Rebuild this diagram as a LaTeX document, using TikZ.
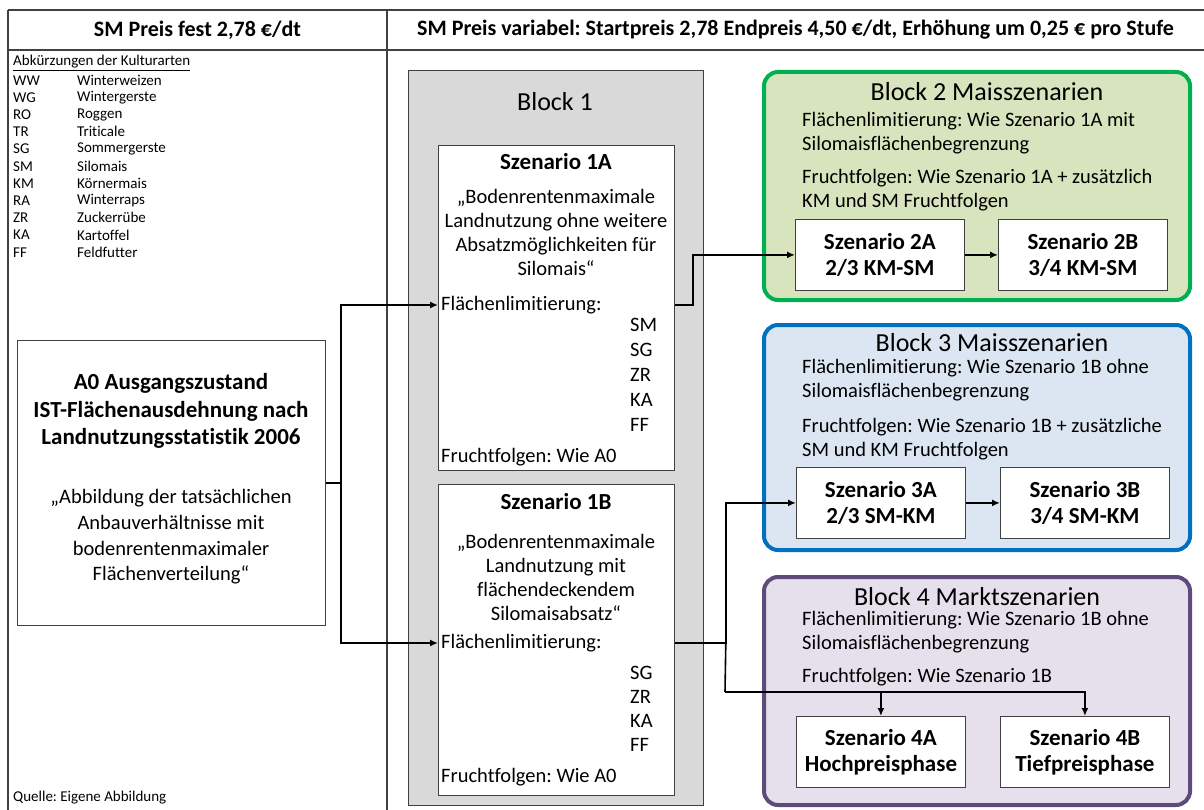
\documentclass[tikz,border=0pt]{standalone}
\usepackage{fontspec}
\setmainfont{Carlito}[Ligatures=NoCommon]
\usetikzlibrary{arrows.meta}
\frenchspacing

\definecolor{gruenRand}{HTML}{00B050}
\definecolor{gruenFill}{HTML}{D7E4BD}
\definecolor{blauRand}{HTML}{0070C0}
\definecolor{blauFill}{HTML}{DCE6F2}
\definecolor{lilaRand}{HTML}{604A7B}
\definecolor{lilaFill}{HTML}{E5E0EC}
\definecolor{grau}{HTML}{D9D9D9}
\definecolor{rahmen}{HTML}{404040}

\begin{document}
\begin{tikzpicture}[x=1pt, y=-1pt,
    txt/.style={inner sep=0pt, font=\fontsize{20.5}{24}\selectfont},
    fett/.style={inner sep=0pt, align=center, font=\bfseries\fontsize{23}{26}\selectfont},
    kopf/.style={inner sep=0pt, font=\bfseries\fontsize{22}{24}\selectfont},
    titel/.style={inner sep=0pt, font=\fontsize{26}{30}\selectfont},
    klein/.style={inner sep=0pt, anchor=west, font=\fontsize{15}{17}\selectfont},
    kasten/.style={draw=rahmen, line width=0.8pt, fill=white, anchor=north west,
      minimum width=169pt, minimum height=71pt, inner sep=0pt, align=center,
      font=\bfseries\fontsize{23}{26}\selectfont},
    block/.style={rounded corners=14pt, line width=4pt, anchor=north west,
      minimum width=426pt, minimum height=228pt},
    linie/.style={line width=1.6pt},
    pfeil/.style={line width=1.6pt, -{Latex[length=8pt,width=7pt]}},
  ]
  \useasboundingbox (0,0) rectangle (1204,810);
  % Tabelle
  \draw[line width=1.3pt, draw=rahmen] (8,10) -- (1204,10) (8,50) -- (1204,50)
    (8,10) -- (8,810) (387,10) -- (387,810);
  \node[kopf] (kopfL) at (197.5,30) {SM Preis fest 2,78 €/dt};
  \node[kopf] (kopfR) at (795.5,30) {SM Preis variabel: Startpreis 2,78 Endpreis 4,50 €/dt, Erhöhung um 0,25 € pro Stufe};

  % Legende
  \node[klein] (legende) at (13,63) {\underline{Abkürzungen der Kulturarten}};
  \foreach \k/\n [count=\i] in {WW/Winterweizen, WG/Wintergerste, RO/Roggen, TR/Triticale,
      SG/Sommergerste, SM/Silomais, KM/Körnermais, RA/Winterraps, ZR/Zuckerrübe,
      KA/Kartoffel, FF/Feldfutter}{
    \node[klein] (kurz\i) at (13,63+17.2*\i) {\k};
    \node[klein] (lang\i) at (77,63+17.2*\i) {\n};
  }
  \node[klein] (quelle) at (13,798) {Quelle: Eigene Abbildung};

  % A0
  \node[draw=rahmen, line width=0.8pt, anchor=north west, minimum width=308pt,
    minimum height=285pt, inner sep=0pt] (a0) at (17,340) {};
  \node[fett, font=\bfseries\fontsize{23}{27.5}\selectfont] (a0titel) at (171,411)
    {A0 Ausgangszustand\\IST-Flächenausdehnung nach\\Landnutzungsstatistik 2006};
  \node[txt, align=center, font=\fontsize{20.5}{25.7}\selectfont] (a0zitat) at (171,537)
    {„Abbildung der tatsächlichen\\Anbauverhältnisse mit\\bodenrentenmaximaler\\Flächenverteilung“};

  % Block 1
  \node[draw=rahmen, line width=0.8pt, fill=grau, anchor=north west, minimum width=295pt,
    minimum height=735pt] (b1) at (408,70) {};
  \node[titel] (b1titel) at (555,102) {Block 1};
  % Szenario 1A
  \node[kasten, minimum width=236pt, minimum height=325pt] (s1a) at (438,145) {};
  \node[fett] (s1atitel) at (556,162) {Szenario 1A};
  \node[txt, align=center] (s1azitat) at (556,232)
    {„Bodenrentenmaximale\\Landnutzung ohne weitere\\Absatzmöglichkeiten für\\Silomais“};
  \node[txt, anchor=west] (fl1a) at (441,305) {Flächenlimitierung:};
  \foreach \k [count=\i] in {SM,SG,ZR,KA,FF}
    \node[txt, anchor=west] (lim1a\i) at (630,300+25*\i) {\k};
  \node[txt, anchor=west] (ff1a) at (441,457) {Fruchtfolgen: Wie A0};
  % Szenario 1B
  \node[kasten, minimum width=236pt, minimum height=311pt] (s1b) at (438,484) {};
  \node[fett] (s1btitel) at (556,502) {Szenario 1B};
  \node[txt, align=center] (s1bzitat) at (556,577)
    {„Bodenrentenmaximale\\Landnutzung mit\\flächendeckendem\\Silomaisabsatz“};
  \node[txt, anchor=west] (fl1b) at (441,643) {Flächenlimitierung:};
  \foreach \k [count=\i] in {SG,ZR,KA,FF}
    \node[txt, anchor=west] (lim1b\i) at (630,649+24*\i) {\k};
  \node[txt, anchor=west] (ff1b) at (441,777) {Fruchtfolgen: Wie A0};

  % A0 -> Block 1
  \draw[linie] (a0.east) -- ++(15,0) coordinate (v0);
  \draw[pfeil] (v0) |- (s1a.west |- fl1a);
  \draw[pfeil] (v0) |- (s1b.west |- fl1b);

  % Block 2
  \node[block, draw=gruenRand, fill=gruenFill] (b2) at (762,70) {};
  \node[titel] (b2titel) at (987,92) {Block 2 Maisszenarien};
  \node[txt, align=left, anchor=west] (b2fl) at (802,133.5)
    {Flächenlimitierung: Wie Szenario 1A mit\\Silomaisflächenbegrenzung};
  \node[txt, align=left, anchor=west] (b2ff) at (802,190)
    {Fruchtfolgen: Wie Szenario 1A + zusätzlich\\KM und SM Fruchtfolgen};
  \node[kasten] (s2a) at (795,219) {Szenario 2A\\2/3 KM-SM};
  \node[kasten] (s2b) at (998,219) {Szenario 2B\\3/4 KM-SM};

  % Block 3
  \node[block, draw=blauRand, fill=blauFill, minimum height=225pt] (b3) at (762,323) {};
  \node[titel] (b3titel) at (992,343) {Block 3 Maisszenarien};
  \node[txt, align=left, anchor=west] (b3fl) at (802,380.5)
    {Flächenlimitierung: Wie Szenario 1B ohne\\Silomaisflächenbegrenzung};
  \node[txt, align=left, anchor=west] (b3ff) at (802,439.5)
    {Fruchtfolgen: Wie Szenario 1B + zusätzliche\\SM und KM Fruchtfolgen};
  \node[kasten] (s3a) at (796,467) {Szenario 3A\\2/3 SM-KM};
  \node[kasten] (s3b) at (1000,467) {Szenario 3B\\3/4 SM-KM};

  % Block 4
  \node[block, draw=lilaRand, fill=lilaFill] (b4) at (762,575) {};
  \node[titel] (b4titel) at (977,597) {Block 4 Marktszenarien};
  \node[txt, align=left, anchor=west] (b4fl) at (802,632.5)
    {Flächenlimitierung: Wie Szenario 1B ohne\\Silomaisflächenbegrenzung};
  \node[txt, anchor=west] (b4ff) at (802,677) {Fruchtfolgen: Wie Szenario 1B};
  \node[kasten] (s4a) at (796,716) {Szenario 4A\\Hochpreisphase};
  \node[kasten] (s4b) at (1000,716) {Szenario 4B\\Tiefpreisphase};

  % Verbindungen
  \draw[pfeil] (s1a.east |- fl1a) -- ++(18,0) |- (s2a.west);
  \draw[pfeil] (s2a) -- (s2b);
  \draw[pfeil] (s1b.east |- fl1b) -- ++(51,0) coordinate (v1) |- (s3a.west);
  \draw[pfeil] (s3a) -- (s3b);
  \coordinate (v4) at (725,692);
  \draw[linie] (v1) -- (v4);
  \draw[pfeil] (v4) -| (s4a.north);
  \draw[pfeil] (v4) -| (s4b.north);
\end{tikzpicture}
\end{document}
